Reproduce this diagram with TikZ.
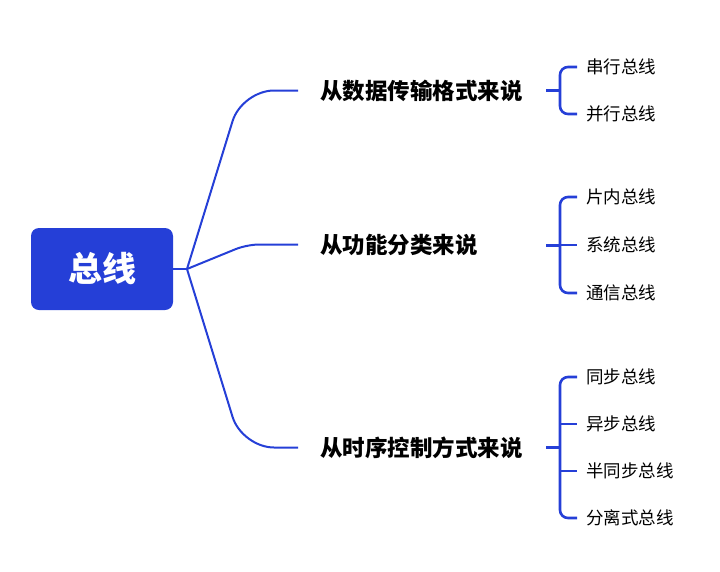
\documentclass[tikz,border=0pt]{standalone}
\usepackage{fontspec}
\newfontfamily\cjk{Noto Sans CJK SC}
\definecolor{busblue}{RGB}{37,63,215}
\begin{document}
\begin{tikzpicture}[x=1pt,y=-1pt,
  root/.style={fill=busblue, rounded corners=8pt, minimum width=142pt, minimum height=82pt, text=white, font=\cjk\bfseries\fontsize{34}{40}\selectfont},
  branch/.style={anchor=west, inner xsep=22pt, inner ysep=0pt, font=\cjk\bfseries\fontsize{22.5}{26}\selectfont},
  leaf/.style={anchor=west, inner xsep=9pt, inner ysep=0pt, font=\cjk\fontsize{17.5}{21}\selectfont},
  link/.style={draw=busblue, line width=2pt, rounded corners=32pt},
  brace/.style={draw=busblue, line width=2.6pt, rounded corners=8pt}]
  \useasboundingbox (0,0) rectangle (720,571);
  % root
  \node[root] (bus) at (102,269) {总线};
  \coordinate (hub) at (187,269);
  % branches
  \node[branch] (fmt) at (298,90.5) {从数据传输格式来说};
  \node[branch] (func) at (298,244.5) {从功能分类来说};
  \node[branch] (timing) at (298,447.5) {从时序控制方式来说};
  \draw[link] (bus.east) -- (hub);
  \draw[link] (hub) -- (242,90.5) -- (fmt.west);
  \draw[link, rounded corners=12pt] (hub) -- (247,244.5) -- (func.west);
  \draw[link] (hub) -- (242,447.5) -- (timing.west);
  % leaves
  \node[leaf] (serial) at (577,67) {串行总线};
  \node[leaf] (parallel) at (577,114) {并行总线};
  \node[leaf] (onchip) at (577,197) {片内总线};
  \node[leaf] (system) at (577,245) {系统总线};
  \node[leaf] (comm) at (577,293) {通信总线};
  \node[leaf] (sync) at (577,377) {同步总线};
  \node[leaf] (async) at (577,424) {异步总线};
  \node[leaf] (semisync) at (577,471) {半同步总线};
  \node[leaf] (split) at (577,518) {分离式总线};
  % brackets
  \coordinate (fmtj) at (546,90);
  \coordinate (fmtv) at (560,90);
  \draw[brace, line width=3pt] (fmtj) -- (fmtv);
  \draw[brace] (serial.west) -| (fmtv) |- (parallel.west);
  \coordinate (funcj) at (546,245);
  \coordinate (funcv) at (560,245);
  \draw[brace, line width=3pt] (funcj) -- (funcv);
  \draw[brace] (onchip.west) -| (funcv) |- (comm.west);
  \draw[brace] (funcv) -- (system.west);
  \coordinate (timingj) at (546,447);
  \coordinate (timingv) at (560,447);
  \draw[brace, line width=3pt] (timingj) -- (timingv);
  \draw[brace] (sync.west) -| (timingv) |- (split.west);
  \draw[brace] (timingv |- async.west) -- (async.west);
  \draw[brace] (timingv |- semisync.west) -- (semisync.west);
\end{tikzpicture}
\end{document}
